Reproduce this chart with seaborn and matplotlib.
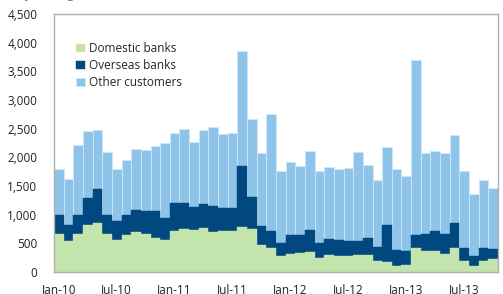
import numpy as np
import pandas as pd
import matplotlib
matplotlib.use("Agg")
import matplotlib.pyplot as plt
import seaborn as sns
from matplotlib.ticker import FuncFormatter

# monthly values, Jan-10 .. Oct-13
months = pd.date_range("2010-01-01", periods=46, freq="MS").strftime("%b-%y").tolist()

domestic = [655, 535, 655, 820, 860, 655, 550, 640, 705, 665, 590, 565,
            715, 745, 730, 765, 690, 715, 720, 785, 755, 465, 425, 280,
            320, 330, 345, 250, 300, 285, 275, 290, 300, 190, 180, 100,
            115, 415, 360, 360, 320, 415, 185, 105, 185, 230]
overseas = [345, 285, 345, 470, 580, 345, 335, 355, 385, 395, 480, 370,
            495, 465, 410, 425, 465, 410, 400, 1070, 560, 330, 290, 230,
            325, 315, 390, 255, 280, 270, 260, 255, 295, 245, 640, 290,
            245, 230, 305, 350, 345, 440, 230, 180, 235, 175]
other = [790, 810, 1220, 1170, 1040, 1085, 920, 950, 1050, 1070, 1135, 1315,
         1220, 1285, 1130, 1285, 1375, 1285, 1305, 2005, 1350, 1280, 2045, 1245,
         1270, 1205, 1380, 1250, 1255, 1250, 1285, 1545, 1275, 1175, 1355, 1415,
         1315, 3060, 1410, 1400, 1410, 1535, 1350, 1075, 1190, 1060]

df = pd.DataFrame({"month": months, "Domestic banks": domestic,
                   "Overseas banks": overseas, "Other customers": other})
df["lvl2"] = df["Domestic banks"] + df["Overseas banks"]
df["lvl3"] = df["lvl2"] + df["Other customers"]

sns.set_style("white")
plt.rcParams["font.family"] = ["Open Sans", "DejaVu Sans"]

fig = plt.figure(figsize=(5.03, 2.94), dpi=100)
ax = fig.add_axes([54 / 503, 1 - 272 / 294, 444 / 503, 258 / 294])

c_green, c_dark, c_light = "#c3e5ad", "#00487f", "#8ec4ea"
# stacked look: draw cumulative totals on top of each other
sns.barplot(data=df, x="month", y="lvl3", color=c_light, width=1.0,
            edgecolor="#cfe6f7", linewidth=0.6, saturation=1, ax=ax, label="Other customers")
sns.barplot(data=df, x="month", y="lvl2", color=c_dark, width=1.0,
            edgecolor=c_dark, linewidth=0.3, saturation=1, ax=ax, label="Overseas banks")
sns.barplot(data=df, x="month", y="Domestic banks", color=c_green, width=1.0,
            edgecolor=c_green, linewidth=0.3, saturation=1, ax=ax, label="Domestic banks")

ax.set_xlim(-0.5, 45.5)
ax.set_ylim(0, 4500)
ax.set_yticks(np.arange(0, 4501, 500))
ax.yaxis.set_major_formatter(FuncFormatter(lambda v, p: f"{int(v):,}"))
ax.set_xticks(range(0, 46, 6))
ax.set_xticklabels([months[i] for i in range(0, 46, 6)])
ax.tick_params(axis="both", length=0, labelsize=8.5, colors="#222222")
ax.tick_params(axis="y", pad=12)
ax.tick_params(axis="x", pad=8)
ax.set_xlabel("")
ax.set_ylabel("")
for s in ax.spines.values():
    s.set_color("#b0b0b0")
    s.set_linewidth(1.0)

h, l = ax.get_legend_handles_labels()
order = [l.index("Domestic banks"), l.index("Overseas banks"), l.index("Other customers")]
ax.legend([h[i] for i in order], [l[i] for i in order], loc="upper left",
          bbox_to_anchor=(0.04, 0.91), frameon=False, fontsize=8.5,
          handlelength=0.7, handleheight=0.7, handletextpad=0.4, labelspacing=0.35,
          borderaxespad=0)

fig.text(0.0, 1.018, "(daily average, US$ million)", color="#1f8ad8", fontsize=9,
         va="center", ha="left")

fig.savefig("out.png", dpi=100)
